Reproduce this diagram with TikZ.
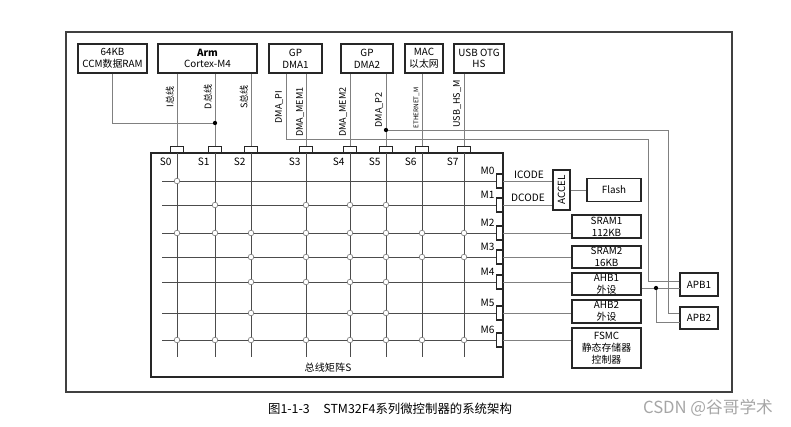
\documentclass[tikz,border=0pt]{standalone}
\usepackage{fontspec}
\usepackage{graphicx}
\setmainfont{Noto Sans CJK SC}

\tikzset{every picture/.style={line width=0.75pt}}
\tikzset{
  box/.style={draw=black!85, line width=1pt, align=center, inner sep=0pt, font=\fontsize{7.4}{8.8}\selectfont},
  bw/.style={minimum width=#1*0.75pt},
  bh/.style={minimum height=#1*0.75pt},
  port/.style={draw=black!85, line width=0.9pt, fill=white, inner sep=0pt},
  bus/.style={draw=black!50, line width=0.55pt},
  mline/.style={draw=black!70, line width=0.65pt},
  junc/.style={circle, draw=black!55, fill=white, line width=0.45pt, inner sep=0pt, minimum size=4.2pt},
  jdot/.style={circle, fill=black, inner sep=0pt, minimum size=3.2pt},
  blabel/.style={rotate=90, anchor=south, inner sep=1pt, font=\fontsize{6.8}{7}\selectfont},
  plabel/.style={inner sep=0pt, font=\fontsize{7.6}{8}\selectfont},
}

\begin{document}
\begin{tikzpicture}[x=0.75pt,y=0.75pt,yscale=-1,xscale=1]
\useasboundingbox (0,0) rectangle (791,426);

%Frame
\draw [draw=black!75, line width=0.9pt] (66,32) rectangle (732,392);

%Bus masters
\node [box, bw=69, bh=29] (ccm) at (112.5,58.5) {64KB\\CCM数据RAM};
\node [box, bw=99, bh=29] (arm) at (207.5,58.5) {\textbf{Arm}\\Cortex-M4};
\node [box, bw=53, bh=29] (dma1) at (295.5,58.5) {GP\\DMA1};
\node [box, bw=52, bh=29] (dma2) at (367,58.5) {GP\\DMA2};
\node [box, bw=38, bh=29] (mac) at (424,58.5) {MAC\\以太网};
\node [box, bw=50, bh=29] (usb) at (479,58.5) {USB OTG\\HS};

%Bus matrix
\node [draw=black!85, line width=1pt, inner sep=0pt, bw=352, bh=224] (bm) at (327,265) {};
\node [plabel] (bmlabel) at (328,368) {总线矩阵S};

%Slave ports S0-S7
\foreach \n/\x in {0/177,1/215,2/251,3/306,4/350,5/386,6/422,7/464}{
  \draw [mline] (\x,153) -- (\x,357);
  \node [port, bw=13, bh=6, anchor=south] (s\n) at (\x,153) {};
  \node [plabel, anchor=east] (sl\n) at (\x-5,162) {S\n};
}

%Master ports M0-M6
\foreach \n/\y in {0/181,1/205,2/233,3/257,4/282,5/313,6/340}{
  \node [port, bw=6, bh=14, anchor=east] (m\n) at (503,\y) {};
  \draw [mline] (m\n.west) -- ++(-334,0);
  \node [plabel, anchor=east] (ml\n) at (495,\y-10) {M\n};
}

%Crossings
\foreach \r/\cols in {0/{0},1/{1,3,4,5},2/{0,1,2,3,4,5,6,7},3/{2,3,4,5,6,7},4/{2,3,4,5},5/{2,4,5},6/{0,1,2,3,4,5,6,7}}
  \foreach \c in \cols
    \node [junc] (j\r\c) at (s\c.south |- m\r.west) {};

%Master buses
\draw [bus] (arm.south -| s0) -- (s0.north);
\draw [bus] (arm.south -| s1) -- (s1.north);
\draw [bus] (arm.south -| s2) -- (s2.north);
\draw [bus] (dma1.south -| s3) -- (s3.north);
\draw [bus] (dma2.south -| s4) -- (s4.north);
\draw [bus] (dma2.south -| s5) -- (s5.north);
\draw [bus] (mac.south -| s6) -- (s6.north);
\draw [bus] (usb.south -| s7) -- (s7.north);

\coordinate (dj) at (215,123);
\draw [bus] (ccm.south) |- (dj);
\node [jdot] (djdot) at (dj) {};

%DMA peripheral ports to APB
\coordinate (pi) at (286,139);
\coordinate (p2) at (386,130);
\coordinate (a1top) at (680,281);
\coordinate (a1bot) at (680,288);
\coordinate (a2top) at (680,313);
\coordinate (a2bot) at (680,322);
\draw [bus] (dma1.south -| pi) |- (648,139) |- (a1top);
\draw [bus] (p2) -- (668,130) |- (a2top);
\node [jdot] (p2dot) at (p2) {};

%Bus labels
\node [blabel] (li) at (176,97) {I总线};
\node [blabel] (ld) at (214,97) {D总线};
\node [blabel] (ls) at (250,97) {S总线};
\node [blabel] (lpi) at (285,107) {DMA\_PI};
\node [blabel] (lmem1) at (306,112) {DMA\_MEM1};
\node [blabel] (lmem2) at (349,112) {DMA\_MEM2};
\node [blabel] (lp2) at (385,110) {DMA\_P2};
\node [blabel, font=\fontsize{4.8}{5}\selectfont] (leth) at (421,108) {ETHERNET\_M};
\node [blabel] (lusb) at (463,104) {USB\_HS\_M};

%Slaves
\node [box, bw=17, bh=40] (accel) at (561.5,190) {\rotatebox{90}{ACCEL}};
\node [box, bw=54, bh=23] (flash) at (614,190) {Flash};
\node [box, bw=69, bh=23] (sram1) at (606.5,226.5) {SRAM1\\112KB};
\node [box, bw=69, bh=22] (sram2) at (606.5,257) {SRAM2\\16KB};
\node [box, bw=69, bh=22] (ahb1) at (606.5,284) {AHB1\\外设};
\node [box, bw=69, bh=23] (ahb2) at (606.5,311.5) {AHB2\\外设};
\node [box, bw=69, bh=40] (fsmc) at (606.5,348) {FSMC\\静态存储器\\控制器};
\node [box, bw=38, bh=23] (apb1) at (699,284.5) {APB1};
\node [box, bw=38, bh=22] (apb2) at (699,318) {APB2};

\draw [bus] (m0.east) -- (m0.east -| accel.west);
\draw [bus] (m1.east) -- (m1.east -| accel.west);
\node [plabel] (icode) at (529,175) {ICODE};
\node [plabel] (dcode) at (528,198) {DCODE};
\draw [bus] (accel.east) -- (flash.west);
\draw [bus] (m2.east) -- (m2.east -| sram1.west);
\draw [bus] (m3.east) -- (m3.east -| sram2.west);
\draw [bus] (m4.east) -- (m4.east -| ahb1.west);
\draw [bus] (m5.east) -- (m5.east -| ahb2.west);
\draw [bus] (m6.east) -- (m6.east -| fsmc.west);

\coordinate (aj) at (656,288);
\draw [bus] (ahb1.east |- aj) -- (a1bot);
\draw [bus] (aj) |- (a2bot);
\node [jdot] (ajdot) at (aj) {};

%Caption
\node [font=\fontsize{9.3}{10}\selectfont] (caption) at (390,409) {图1-1-3\hspace{1.1em}STM32F4系列微控制器的系统架构};
\node [font=\fontsize{12.5}{13}\selectfont, text=black!35] (mark) at (708,408) {CSDN @谷哥学术};

\end{tikzpicture}
\end{document}
